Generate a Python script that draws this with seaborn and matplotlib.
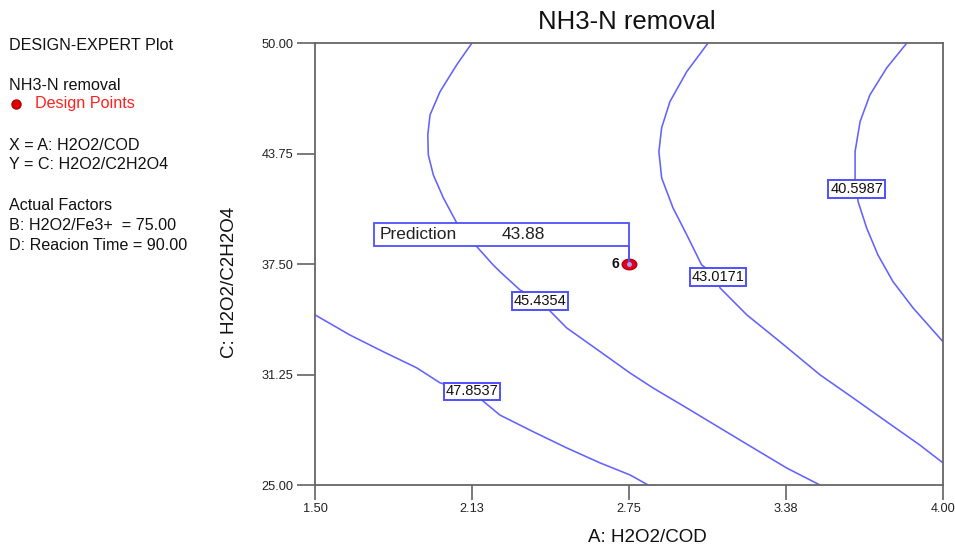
import numpy as np
import pandas as pd
import seaborn as sns
import matplotlib
matplotlib.use("Agg")
import matplotlib.pyplot as plt
from matplotlib.patches import Rectangle
from matplotlib.lines import Line2D
from matplotlib.path import Path
from matplotlib.transforms import Affine2D

# ---- response-surface contour traces (A: H2O2/COD, C: H2O2/C2H2O4) ----
c45_x = [2.124, 2.064, 1.998, 1.958, 1.949, 1.951, 1.971, 2.011, 2.064, 2.144, 2.209,
         2.236, 2.316, 2.396, 2.502, 2.635, 2.754, 2.846, 2.980, 3.112, 3.244, 3.378, 3.510]
c45_y = [50.00, 48.78, 47.27, 45.95, 44.82, 43.69, 42.55, 41.25, 39.84, 38.49, 37.46,
         37.08, 36.04, 35.42, 33.89, 32.55, 31.34, 30.49, 29.36, 28.23, 27.10, 25.96, 25.00]

c47_x = [1.500, 1.639, 1.771, 1.905, 1.998, 2.124, 2.236, 2.368, 2.502, 2.635, 2.754, 2.826]
c47_y = [34.63, 33.49, 32.55, 31.63, 30.78, 30.28, 28.96, 28.02, 27.10, 26.25, 25.57, 25.00]

c43_x = [3.064, 2.980, 2.913, 2.880, 2.869, 2.880, 2.925, 2.980, 3.039, 3.104, 3.112,
         3.219, 3.351, 3.511, 3.642, 3.776, 3.908, 4.000]
c43_y = [50.00, 48.40, 46.70, 45.22, 43.87, 42.38, 40.69, 39.16, 37.46, 36.78, 36.16,
         34.63, 33.11, 31.23, 29.93, 28.58, 27.26, 26.25]

c40_x = [3.855, 3.776, 3.709, 3.670, 3.650, 3.650, 3.656, 3.662, 3.696, 3.741, 3.801,
         3.881, 4.000]
c40_y = [50.00, 48.61, 47.08, 45.57, 43.87, 42.17, 41.76, 41.04, 39.55, 38.02, 36.51,
         35.02, 33.11]

contour_levels = ["47.8537", "45.4354", "43.0171", "40.5987"]
label_x = [2.125, 2.396, 3.104, 3.656]
label_y = [30.30, 35.42, 36.78, 41.76]

# design point and prediction
point_x = [2.75]
point_y = [37.50]
point_run = ["6"]
prediction = 43.88

x_ticks = [1.5, 2.125, 2.75, 3.375, 4.0]
x_ticklabels = ["1.50", "2.13", "2.75", "3.38", "4.00"]
y_ticks = [25.0, 31.25, 37.5, 43.75, 50.0]
y_ticklabels = ["25.00", "31.25", "37.50", "43.75", "50.00"]

info_lines = [
    ("DESIGN-EXPERT Plot", 45),
    ("NH3-N removal", 85),
    ("X = A: H2O2/COD", 146),
    ("Y = C: H2O2/C2H2O4", 165),
    ("Actual Factors", 206),
    ("B: H2O2/Fe3+  = 75.00", 226),
    ("D: Reacion Time = 90.00", 246),
]

# ---- styling ----
sns.set_theme(style="white")
plt.rcParams["font.family"] = ["Liberation Sans", "DejaVu Sans"]

W, H = 955, 547
fig = plt.figure(figsize=(W / 100, H / 100), dpi=100)
fig.patch.set_facecolor("white")
ax = fig.add_axes([315 / W, 1 - 485 / H, (943 - 315) / W, (485 - 43.3) / H])

line_col = "#6262ff"
box_col = "#4f4fff"

traces = [(c47_x, c47_y), (c45_x, c45_y), (c43_x, c43_y), (c40_x, c40_y)]
frames = []
for lvl, (xs, ys) in zip(contour_levels, traces):
    frames.append(pd.DataFrame({"A": xs, "C": ys, "level": lvl}))
df = pd.concat(frames, ignore_index=True)

sns.lineplot(data=df, x="A", y="C", units="level", estimator=None, sort=False,
             color=line_col, linewidth=1.15, ax=ax, legend=False, zorder=2)

for lvl, lx, ly in zip(contour_levels, label_x, label_y):
    ax.text(lx, ly, lvl, ha="center", va="center", fontsize=10.5, color="#111111", zorder=5,
            bbox=dict(boxstyle="square,pad=0.12", facecolor="white", edgecolor=box_col,
                      linewidth=1.4))

# prediction flag
box_left, box_right = 1.735, 2.75
box_bottom, box_top = 38.53, 39.84
ax.add_patch(Rectangle((box_left, box_bottom), box_right - box_left, box_top - box_bottom,
                       facecolor="white", edgecolor=box_col, linewidth=1.3, zorder=4))
ax.text(1.759, (box_bottom + box_top) / 2, "Prediction", fontsize=12.5, color="#222222",
        va="center", ha="left", zorder=6)
ax.text(2.244, (box_bottom + box_top) / 2, f"{prediction:.2f}", fontsize=12.5, color="#222222",
        va="center", ha="left", zorder=6)

# design point (slightly flattened circle)
ellipse = Path.unit_circle().transformed(Affine2D().scale(1.0, 0.72))
sns.scatterplot(x=point_x, y=point_y, marker=ellipse, s=110, color="#e4001b",
                edgecolor="#b00010", linewidth=1.0, ax=ax, zorder=7, legend=False)
ax.plot([point_x[0], point_x[0]], [box_bottom, point_y[0]], color=box_col, linewidth=1.4,
        zorder=8, solid_capstyle="butt")
ax.plot(point_x, point_y, marker="o", markersize=2.5, color="#a9a0ff", linestyle="none", zorder=9)
ax.text(point_x[0] - 0.04, point_y[0], point_run[0], ha="right", va="center",
        fontsize=10, fontweight="bold", color="#111111", zorder=7)

# axes
ax.set_xlim(1.5, 4.0)
ax.set_ylim(25, 50)
ax.set_xticks(x_ticks)
ax.set_xticklabels(x_ticklabels)
ax.set_yticks(y_ticks)
ax.set_yticklabels(y_ticklabels)
ax.set_xlabel("")
ax.set_ylabel("")
ax.tick_params(axis="x", bottom=True, direction="out", length=11, width=1.1, pad=2,
               labelsize=9.2, colors="#555555", labelcolor="#222222")
ax.tick_params(axis="y", left=True, direction="out", length=13, width=1.1, pad=2.5,
               labelsize=9.2, colors="#555555", labelcolor="#222222")
for side in ["left", "bottom", "top", "right"]:
    ax.spines[side].set_visible(True)
    ax.spines[side].set_color("#666666")
    ax.spines[side].set_linewidth(1.3)

# titles and axis captions
fig.text(627 / W, 1 - 22 / H, "NH3-N removal", ha="center", va="center",
         fontsize=18.5, color="#111111")
fig.text(647 / W, 1 - 537 / H, "A: H2O2/COD", ha="center", va="center",
         fontsize=13.5, color="#111111")
fig.text(229 / W, 1 - 282 / H, "C: H2O2/C2H2O4", ha="center", va="center",
         fontsize=13.5, color="#111111", rotation=90)

# side information panel
for txt, ypx in info_lines:
    fig.text(9 / W, 1 - ypx / H, txt, ha="left", va="center", fontsize=11.6, color="#111111")
fig.add_artist(Line2D([16 / W], [1 - 104 / H], marker="o", markersize=6.5,
                      color="#e00000", markeredgecolor="#b00000", transform=fig.transFigure))
fig.text(35 / W, 1 - 104 / H, "Design Points", ha="left", va="center", fontsize=11.6,
         color="#ff2020")

fig.savefig("out.png", dpi=100, facecolor="white")
